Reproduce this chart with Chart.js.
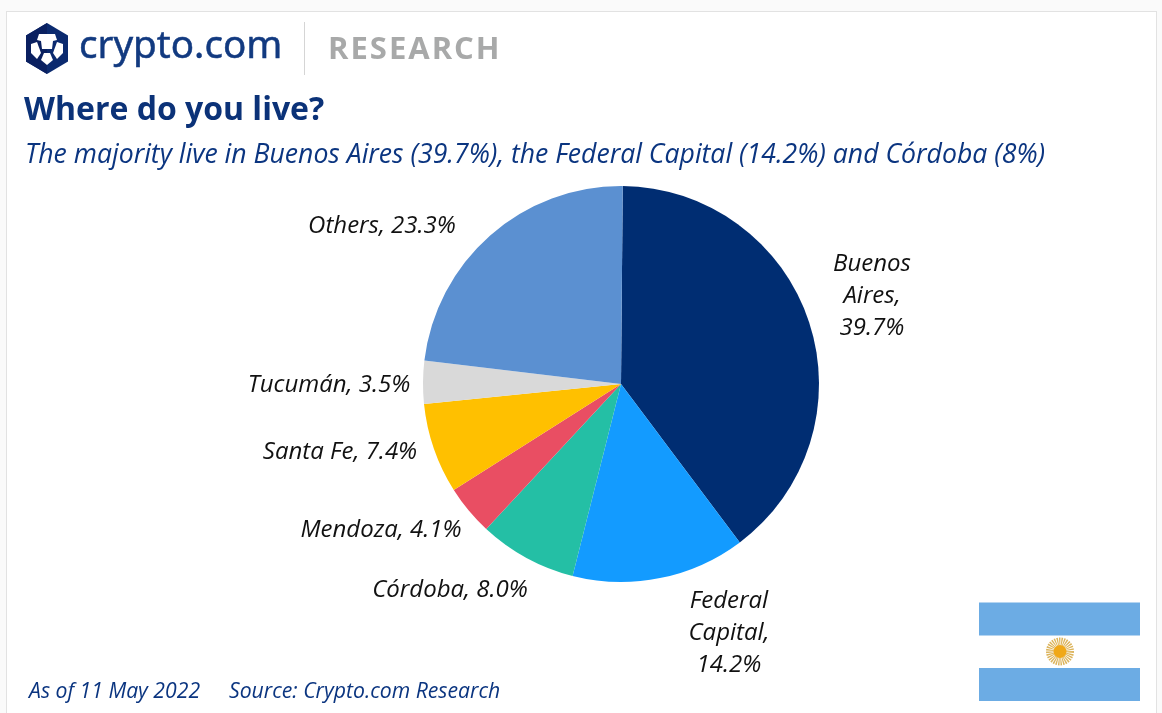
<!DOCTYPE html>
<html><head><meta charset="utf-8">
<script src="https://cdn.jsdelivr.net/npm/chart.js@4"></script>
<style>
html,body{margin:0;padding:0;width:1162px;height:713px;overflow:hidden;background:#fafafa;font-family:"Open Sans",sans-serif}
#card{position:absolute;left:6px;top:11px;width:1151px;height:720px;background:#fff;border:1.5px solid #e2e2e2;box-sizing:border-box}
canvas{position:absolute;left:0;top:0}
.t{position:absolute;white-space:nowrap;color:#0b3580;line-height:1}
svg{position:absolute}
</style></head><body>
<div id="card"></div>
<div style="position:absolute;left:0;top:0;width:1162px;height:713px"><canvas id="c" width="1162" height="713"></canvas></div>
<svg style="left:25px;top:23px" width="44" height="52" viewBox="0 0 44 52">
<polygon points="22,0 43,12.5 43,38.5 22,51 1,38.5 1,12.5" fill="#0b2a6f"/>
<polygon points="22,0 1,12.5 1,38.5 22,51" fill="#0a2060"/>
<polygon points="14,11 30,11 32,17 28,18 27,26 17,26 16,18 12,17" fill="#fff"/>
<polygon points="6,21 12,19 16,30 12,36 6,30" fill="#fff"/>
<polygon points="38,21 32,19 28,30 32,36 38,30" fill="#fff"/>
<polygon points="16,37 19,30 25,30 28,37 22,42" fill="#fff"/>
</svg>
<div class="t" style="left:79px;top:24px;font-size:38.6px;color:#123a80;font-family:'Noto Sans';-webkit-text-stroke:0.5px #123a80">crypto.com</div>
<div style="position:absolute;left:304px;top:22px;width:1px;height:53px;background:#d5d5d5"></div>
<div class="t" style="left:328px;top:32px;font-size:31px;font-weight:700;color:#a8a9a9;letter-spacing:2px">RESEARCH</div>
<div class="t" style="left:24px;top:92px;font-size:32px;font-weight:700;color:#0b3278">Where do you live?</div>
<div class="t" style="left:25px;top:140px;font-size:26.6px;font-style:italic">The majority live in Buenos Aires (39.7%), the Federal Capital (14.2%) and Córdoba (8%)</div>
<div class="t" style="left:29px;top:679px;font-size:21.2px;font-style:italic">As of 11 May 2022</div>
<div class="t" style="left:229px;top:679px;font-size:21.2px;font-style:italic">Source: Crypto.com Research</div>
<svg style="left:979px;top:602px" width="162" height="100" viewBox="0 0 162 100">
<rect x="0" y="0.5" width="161" height="33" fill="#6cace4"/>
<rect x="0" y="66" width="161" height="33" fill="#6cace4"/>
<circle cx="81" cy="49.5" r="10" fill="none" stroke="#dcb45c" stroke-width="8" stroke-dasharray="1.2 0.8"/>
<circle cx="81" cy="49.5" r="6.5" fill="#f0a818"/>
</svg>
<script>
const categories = ["Buenos Aires","Federal Capital","Córdoba","Mendoza","Santa Fe","Tucumán","Others"];
const shares = [39.7,14.2,8.0,4.1,7.4,3.5,23.3];
const sliceColors = ["#002d72","#139bff","#24bfa5","#e94e63","#ffc000","#d9d9d9","#5b90d1"];
const labelLines = [["Buenos","Aires,","39.7%"],["Federal","Capital,","14.2%"],["Córdoba, 8.0%"],["Mendoza, 4.1%"],["Santa Fe, 7.4%"],["Tucumán, 3.5%"],["Others, 23.3%"]];
const labelCenters = [[872,296],[729,633],[450,590],[381,530],[340,452],[329,385],[382,226]];

const labelPlugin = {
  id:"sliceLabels",
  afterDatasetsDraw(chart){
    const g = chart.ctx;
    g.save();
    g.font = "italic 24px 'Open Sans'";
    g.fillStyle = "#111";
    g.textAlign = "center";
    g.textBaseline = "middle";
    labelLines.forEach((lines,i)=>{
      const [x,y] = labelCenters[i];
      lines.forEach((s,j)=>g.fillText(s,x,y+(j-(lines.length-1)/2)*32));
    });
    g.restore();
  }
};
new Chart(document.getElementById("c"),{
  type:"pie",
  data:{labels:categories,datasets:[{data:shares,backgroundColor:sliceColors,borderWidth:0}]},
  options:{
    responsive:false,animation:false,rotation:0.5,
    layout:{padding:{left:423,right:343,top:186,bottom:131}},
    plugins:{legend:{display:false},tooltip:{enabled:false}}
  },
  plugins:[labelPlugin]
});
</script>
</body></html>
